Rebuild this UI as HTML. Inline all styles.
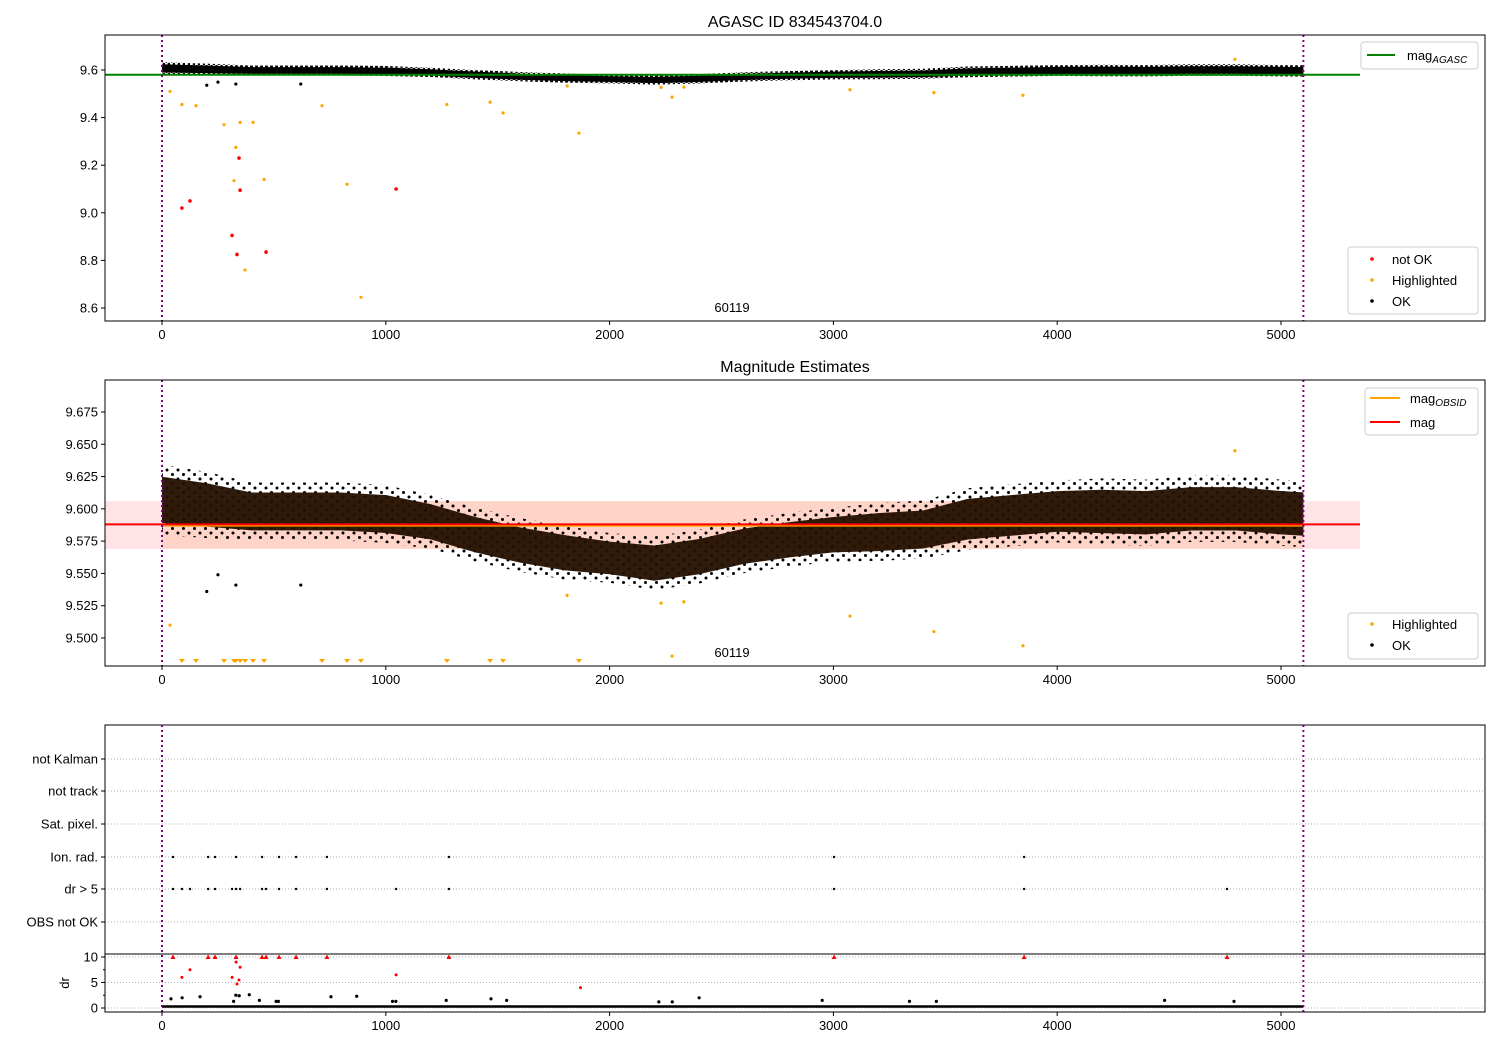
<!DOCTYPE html>
<html><head><meta charset="utf-8"><style>
body{margin:0;background:#fff}
svg{display:block;font-family:"Liberation Sans","DejaVu Sans",sans-serif}
</style></head><body>
<svg id="c" width="1500" height="1050" viewBox="0 0 1500 1050"></svg>
<script>
// ---- data ----
const binX=[0,200,400,600,800,1000,1200,1400,1600,1800,2000,2200,2400,2600,2800,3000,3200,3400,3600,3800,4000,4200,4400,4600,4800,5000,5100];
const binMag=[9.607,9.603,9.598,9.598,9.598,9.596,9.590,9.580,9.572,9.566,9.562,9.558,9.563,9.571,9.576,9.580,9.582,9.584,9.592,9.595,9.598,9.598,9.597,9.600,9.600,9.597,9.596];
const binSpread=[0.017,0.016,0.014,0.014,0.014,0.014,0.013,0.013,0.013,0.013,0.012,0.013,0.013,0.013,0.013,0.013,0.014,0.014,0.015,0.015,0.015,0.016,0.016,0.016,0.016,0.016,0.016];
const hiTime=[36,89,152,277,322,330,349,371,407,456,715,827,889,1273,1466,1524,1810,1863,2230,2279,2332,3074,3449,3847,4794];
const hiMag=[9.51,9.455,9.45,9.37,9.135,9.275,9.38,8.76,9.38,9.14,9.45,9.12,8.645,9.455,9.465,9.42,9.533,9.335,9.527,9.486,9.528,9.517,9.505,9.494,9.645];
const badTime=[89,125,313,335,344,349,465,1046];
const badMag=[9.02,9.05,8.905,8.825,9.23,9.095,8.835,9.1];
const okOutTime=[200,250,330,620];
const okOutMag=[9.536,9.549,9.541,9.541];
const magAgasc=9.58, magObsid=9.587, magMean=9.588, magLo=9.569, magHi=9.606;
const obsStart=0, obsEnd=5100;
const ionTime=[49,206,237,331,447,523,599,737,1282,3003,3852];
const drFlagTime=[49,89,125,206,237,313,331,349,447,465,523,599,737,1046,1282,3003,3852,4759];
const drRedTime=[49,89,125,206,237,313,331,331,335,344,349,447,465,523,599,737,1046,1282,1870,3003,3852,4759];
const drRedVal=[10,6,7.5,10,10,6,10,9,4.7,5.5,8,10,10,10,10,10,6.5,10,4,10,10,10];
const drOkTime=[40,90,170,320,330,345,390,435,510,520,755,870,1030,1045,1270,1470,1540,2220,2280,2400,2950,3340,3460,4480,4790];
const drOkVal=[1.8,2,2.2,1.3,2.5,2.4,2.6,1.5,1.3,1.3,2.2,2.3,1.3,1.3,1.5,1.8,1.5,1.2,1.2,2,1.5,1.3,1.3,1.5,1.3];
const cats=["OBS not OK","dr > 5","Ion. rad.","Sat. pixel.","not track","not Kalman"];
const xTicks=[0,1000,2000,3000,4000,5000];
const y1Ticks=[8.6,8.8,9.0,9.2,9.4,9.6];
const y2Ticks=[9.5,9.525,9.55,9.575,9.6,9.625,9.65,9.675];
const drTicks=[0,5,10];

// ---- helpers ----
const svg=document.getElementById('c');const NS='http://www.w3.org/2000/svg';
function mk(tag,attrs,parent){const e=document.createElementNS(NS,tag);for(const k in attrs)e.setAttribute(k,attrs[k]);(parent||svg).appendChild(e);return e;}
function txt(x,y,s,size,anchor,parent){const t=mk('text',{x:x,y:y,'font-size':size,'text-anchor':anchor||'middle',fill:'#000'},parent);t.textContent=s;return t;}
const X=v=>162+v*0.2238;
const L=105,R=1485;
function yLin(d0,p0,d1,p1){return v=>p0+(v-d0)*(p1-p0)/(d1-d0);}
const Y1=yLin(9.6,70,8.6,308);
const Y2=yLin(9.675,412,9.5,638);
const Ydr=yLin(10,957,0,1008);

function xAxis(yb,name){
  const g=mk('g',{});
  xTicks.forEach(t=>{mk('line',{x1:X(t),x2:X(t),y1:yb,y2:yb+4,stroke:'#000'},g);txt(X(t),yb+18,String(t),13,'middle',g);});
}
function yAxis(ticks,Y,fmt,name){
  const g=mk('g',{});
  ticks.forEach(t=>{mk('line',{x1:L-4,x2:L,y1:Y(t),y2:Y(t),stroke:'#000'},g);txt(L-7,Y(t)+4.5,fmt(t),13,'end',g);});
}
function bandPath(Y,k){
  let up='',lo='';
  for(let i=0;i<binX.length;i++){up+=(i?'L':'M')+X(binX[i])+','+Y(binMag[i]+k*binSpread[i]);}
  for(let i=binX.length-1;i>=0;i--){lo+='L'+X(binX[i])+','+Y(binMag[i]-k*binSpread[i]);}
  return up+lo+'Z';
}
function vlines(top,bot){[obsStart,obsEnd].forEach(t=>{const l=mk('line',{x1:X(t),x2:X(t),y1:top,y2:bot,stroke:'#800080','stroke-width':2,'stroke-dasharray':'2,3'});});}
function frame(top,bot,name){const r=mk('rect',{x:L,y:top,width:R-L,height:bot-top,fill:'none',stroke:'#000','stroke-width':1});}
function legend(x,y,w,h,name){const g=mk('g',{});mk('rect',{x:x,y:y,width:w,height:h,rx:3,fill:'#fff','fill-opacity':0.85,stroke:'#ccc'},g);return g;}

mk('defs',{}).innerHTML='<clipPath id="cp1"><rect x="105" y="35" width="1380" height="286"/></clipPath><clipPath id="cp2"><rect x="105" y="380" width="1380" height="286"/></clipPath>'+
'<pattern id="dots" width="5" height="5" patternUnits="userSpaceOnUse"><circle cx="1.5" cy="1.5" r="1.5" fill="#000"/><circle cx="4" cy="4" r="1.3" fill="#000"/></pattern>'+
'<pattern id="dots2" width="11" height="9" patternUnits="userSpaceOnUse"><circle cx="2" cy="2" r="1.5" fill="#000"/><circle cx="7.5" cy="6.5" r="1.5" fill="#000"/></pattern>';

// ---- Panel 1 ----
txt(795,27,'AGASC ID 834543704.0',16);
const p1=mk('g',{'clip-path':'url(#cp1)'});
const b1o=mk('path',{d:bandPath(Y1,1.5),fill:'url(#dots)'},p1);
const b1=mk('path',{d:bandPath(Y1,1.0),fill:'#000'},p1);
okOutTime.forEach((t,i)=>{const c=mk('circle',{cx:X(t),cy:Y1(okOutMag[i]),r:1.6,fill:'#000'},p1);});
hiTime.forEach((t,i)=>{const c=mk('circle',{cx:X(t),cy:Y1(hiMag[i]),r:1.6,fill:'orange'},p1);});
badTime.forEach((t,i)=>{const c=mk('circle',{cx:X(t),cy:Y1(badMag[i]),r:1.8,fill:'red'},p1);});
const ga=mk('line',{x1:L,x2:1360,y1:Y1(magAgasc),y2:Y1(magAgasc),stroke:'green','stroke-width':2});
vlines(35,321);frame(35,321,'panel1-frame');
yAxis(y1Ticks,Y1,v=>v.toFixed(1),'panel1-y-axis');xAxis(321,'panel1-x-axis');
txt(732,312,'60119',13);
let lg=legend(1361,42,117,27,'legend-mag-agasc');
mk('line',{x1:1367,x2:1395,y1:55,y2:55,stroke:'green','stroke-width':2},lg);
let tt=txt(1407,60,'mag',13,'start',lg);let sub=mk('tspan',{'font-size':10,'font-style':'italic',dy:3},tt);sub.textContent='AGASC';
lg=legend(1348,247,130,67,'legend-points-1');
[['red','not OK',260],['orange','Highlighted',281],['#000','OK',302]].forEach(a=>{mk('circle',{cx:1372,cy:a[2]-1,r:1.8,fill:a[0]},lg);txt(1392,a[2]+4,a[1],13,'start',lg);});

// ---- Panel 2 ----
txt(795,372,'Magnitude Estimates',16);
const p2=mk('g',{'clip-path':'url(#cp2)'});
const pk=mk('rect',{x:L,y:Y2(magHi),width:1360-L,height:Y2(magLo)-Y2(magHi),fill:'#ff9aa5','fill-opacity':0.28},p2);
const pe=mk('rect',{x:X(obsStart),y:Y2(magHi),width:X(obsEnd)-X(obsStart),height:Y2(magLo)-Y2(magHi),fill:'#ffa060','fill-opacity':0.22},p2);
const b2o=mk('path',{d:bandPath(Y2,1.6),fill:'url(#dots2)'},p2);
const b2=mk('path',{d:bandPath(Y2,1.05),fill:'#241000','fill-opacity':0.95},p2);
okOutTime.forEach((t,i)=>{const c=mk('circle',{cx:X(t),cy:Y2(okOutMag[i]),r:1.6,fill:'#000'},p2);});
const y2min=9.4783;
hiTime.forEach((t,i)=>{
  if(hiMag[i]<y2min){const px=X(t),py=663;const p=mk('path',{d:`M${px-3},${py-4}L${px+3},${py-4}L${px},${py}Z`,fill:'orange'},p2);}
  else{const c=mk('circle',{cx:X(t),cy:Y2(hiMag[i]),r:1.6,fill:'orange'},p2);}
});
const lo=mk('line',{x1:X(obsStart),x2:X(obsEnd),y1:Y2(magObsid),y2:Y2(magObsid),stroke:'orange','stroke-width':2});
const lm=mk('line',{x1:L,x2:1360,y1:Y2(magMean),y2:Y2(magMean),stroke:'red','stroke-width':2});
vlines(380,666);frame(380,666,'panel2-frame');
yAxis(y2Ticks,Y2,v=>v.toFixed(3),'panel2-y-axis');xAxis(666,'panel2-x-axis');
txt(732,657,'60119',13);
lg=legend(1365,388,113,47,'legend-mag-lines');
mk('line',{x1:1370,x2:1400,y1:398,y2:398,stroke:'orange','stroke-width':2},lg);
tt=txt(1410,403,'mag',13,'start',lg);sub=mk('tspan',{'font-size':10,'font-style':'italic',dy:3},tt);sub.textContent='OBSID';
mk('line',{x1:1370,x2:1400,y1:422,y2:422,stroke:'red','stroke-width':2},lg);txt(1410,427,'mag',13,'start',lg);
lg=legend(1348,613,130,46,'legend-points-2');
[['orange','Highlighted',625],['#000','OK',646]].forEach(a=>{mk('circle',{cx:1372,cy:a[2]-1,r:1.8,fill:a[0]},lg);txt(1392,a[2]+4,a[1],13,'start',lg);});

// ---- Panel 3 ----
const catY=[922,889,857,824,791,759];
const p3=mk('g',{});
cats.forEach((c,i)=>{mk('line',{x1:L,x2:R,y1:catY[i],y2:catY[i],stroke:'#b0b0b0','stroke-dasharray':'1,2'},p3);mk('line',{x1:L-4,x2:L,y1:catY[i],y2:catY[i],stroke:'#000'},p3);const t=txt(L-7,catY[i]+4.5,c,13,'end',p3);});
ionTime.forEach(t=>{const c=mk('circle',{cx:X(t),cy:catY[2],r:1.2,fill:'#000'},p3);});
drFlagTime.forEach(t=>{const c=mk('circle',{cx:X(t),cy:catY[1],r:1.2,fill:'#000'},p3);});
frame(725,954,'flags-frame');
const p4=mk('g',{});
drTicks.forEach(t=>{mk('line',{x1:L,x2:R,y1:Ydr(t),y2:Ydr(t),stroke:'#b0b0b0','stroke-dasharray':'1,2'},p4);mk('line',{x1:L-4,x2:L,y1:Ydr(t),y2:Ydr(t),stroke:'#000'},p4);txt(L-7,Ydr(t)+4.5,String(t),13,'end',p4);});
[2.5,7.5].forEach(t=>mk('line',{x1:L-2,x2:L,y1:Ydr(t),y2:Ydr(t),stroke:'#000'},p4));
const base=mk('line',{x1:X(obsStart),x2:X(obsEnd),y1:Ydr(0.3),y2:Ydr(0.3),stroke:'#000','stroke-width':2.5},p4);
drOkTime.forEach((t,i)=>{const c=mk('circle',{cx:X(t),cy:Ydr(drOkVal[i]),r:1.6,fill:'#000'},p4);});
drRedTime.forEach((t,i)=>{
  if(drRedVal[i]>=10){const px=X(t),py=Ydr(10);const p=mk('path',{d:`M${px-2.5},${py+2}L${px+2.5},${py+2}L${px},${py-2.5}Z`,fill:'red'},p4);}
  else{const c=mk('circle',{cx:X(t),cy:Ydr(drRedVal[i]),r:1.5,fill:'red'},p4);}
});
vlines(725,1012);
frame(954,1012,'dr-frame');
const yl=txt(0,0,'dr',13,'middle');yl.setAttribute('transform','translate(69,983) rotate(-90)');
xAxis(1012,'panel3-x-axis');
</script>
</body></html>
